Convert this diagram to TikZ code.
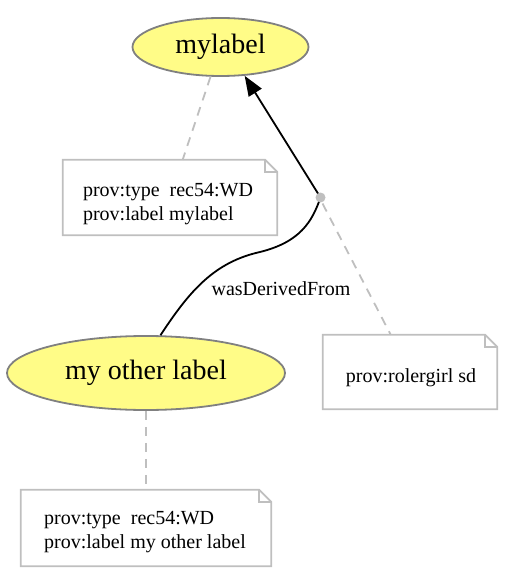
\documentclass[tikz,border=0pt]{standalone}
\usepackage{fontspec}
\setmainfont{Liberation Serif}
\usetikzlibrary{shapes.geometric,arrows.meta}
\definecolor{entfill}{HTML}{FFFC87}
\definecolor{entline}{HTML}{808080}
\definecolor{notegray}{HTML}{BFBFBF}
\tikzset{
  entity/.style={ellipse, draw=entline, fill=entfill, line width=1.8pt, inner sep=0pt, font=\fontsize{28}{30}\selectfont},
  notebox/.style={rectangle, inner sep=0pt},
  notetext/.style={inner sep=0pt, align=left, font=\fontsize{20}{24}\selectfont},
  noteline/.style={draw=notegray, line width=1.8pt, line join=miter},
  annot/.style={draw=notegray, line width=1.8pt, dash pattern=on 9pt off 7pt},
  rel/.style={draw=black, line width=1.8pt},
  bnode/.style={circle, inner sep=0pt, minimum size=10pt},
  rellabel/.style={font=\fontsize{20}{24}\selectfont}
}
\newcommand{\foldnote}[1]{%
  \draw[noteline] (#1.north west) -- ([xshift=-12pt]#1.north east) -- ([yshift=-12pt]#1.north east) -- (#1.south east) -- (#1.south west) -- cycle;
  \draw[noteline] ([xshift=-12pt]#1.north east) -- ([xshift=-12pt,yshift=-12pt]#1.north east) -- ([yshift=-12pt]#1.north east);
}
\begin{document}
\begin{tikzpicture}[x=1pt,y=-1pt]
\useasboundingbox (0,0) rectangle (506,575);
\node[entity, minimum width=176pt, minimum height=58pt] (mylabel) at (220.5,47) {mylabel};
\node[entity, minimum width=278pt, minimum height=74pt] (other) at (146,373) {my other label};
\node[notebox, minimum width=214pt, minimum height=75pt] (note1) at (170,197.5) {};
\node[notebox, minimum width=174pt, minimum height=74pt] (note2) at (410,372) {};
\node[notebox, minimum width=250pt, minimum height=76pt] (note3) at (146,528) {};
\node[notetext] (note1t) at (168,204) {prov:type\ \ rec54:WD\\prov:label mylabel};
\node[notetext] (note2t) at (411,378) {prov:rolergirl sd};
\node[notetext] (note3t) at (145,532) {prov:type\ \ rec54:WD\\prov:label my other label};
\foldnote{note1}
\foldnote{note2}
\foldnote{note3}
\node[bnode] (dot) at (320.5,197.5) {};
\coordinate (mid) at (260,252);
\draw[annot] ([shift={(2pt,-6pt)}]dot.center) -- (note2);
\draw[annot] (mylabel) -- (note1);
\draw[annot] (other) -- (note3);
\draw[rel, -{Triangle[length=20pt,width=15pt]}] (dot.center) -- (mylabel.-50);
\draw[rel] (dot.center) .. controls (312,222) and (300,242) .. (mid) .. controls (215,262) and (190,290) .. (other.69);
\fill[notegray] (dot.center) circle (5pt);
\node[rellabel] (lab) at (281,289) {wasDerivedFrom};
\end{tikzpicture}
\end{document}
